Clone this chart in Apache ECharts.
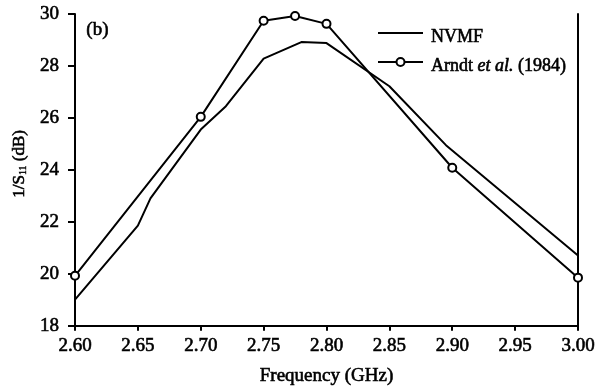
<!DOCTYPE html>
<html>
<head>
<meta charset="utf-8">
<script src="https://cdn.jsdelivr.net/npm/echarts@6/dist/echarts.min.js"></script>
<style>
  html, body { margin: 0; padding: 0; background: #fff; }
  #chart { width: 605px; height: 391px; }
</style>
</head>
<body>
<div id="chart"></div>
<script>
// NVMF simulated curve (frequency GHz, 1/S11 dB)
const nvmfFreq = [2.60, 2.65, 2.66, 2.70, 2.72, 2.75, 2.78, 2.80, 2.85, 2.895, 3.00]
const nvmfVals = [19.0, 21.85, 22.9, 25.55, 26.45, 28.28, 28.92, 28.88, 27.22, 24.95, 20.7]

// Arndt et al. (1984) measured points
const arndtFreq = [2.60, 2.70, 2.75, 2.775, 2.80, 2.90, 3.00]
const arndtVals = [19.92, 26.04, 29.74, 29.92, 29.62, 24.08, 19.85]

const xTicks = [2.60, 2.65, 2.70, 2.75, 2.80, 2.85, 2.90, 2.95, 3.00]
const yTicks = [18, 20, 22, 24, 26, 28, 30]

const font = 'Liberation Serif'
// slight stroke so the serif text reads a little heavier, like the scan
const ink = {color: '#000', textBorderColor: '#000', textBorderWidth: 0.6}

const chart = echarts.init(document.getElementById('chart'))
const option = {
    animation: false,
    grid: {left: 75, right: 27, top: 14, bottom: 63},
    legend: {
        left: 377,
        top: 19,
        orient: 'vertical',
        padding: 0,
        itemWidth: 45,
        itemHeight: 10,
        itemGap: 1,
        textStyle: {
            ...ink,
            fontFamily: font,
            fontSize: 18,
            lineHeight: 20,
            padding: [8, 0, 0, 3],
            rich: {
                it: {...ink, fontFamily: font, fontSize: 18, fontStyle: 'italic', lineHeight: 20}
            }
        },
        formatter: function (name) {
            if (name.indexOf('Arndt') === 0) return 'Arndt {it|et al.} (1984)'
            return name
        },
        data: [
            {name: 'NVMF', itemStyle: {color: 'rgba(0,0,0,0)', borderWidth: 0}},
            {name: 'Arndt et al. (1984)'}
        ]
    },
    xAxis: {
        type: 'value',
        min: xTicks[0],
        max: xTicks[xTicks.length - 1],
        interval: 0.05,
        name: 'Frequency (GHz)',
        nameLocation: 'middle',
        nameGap: 41,
        nameTextStyle: {...ink, fontFamily: font, fontSize: 19},
        axisLine: {lineStyle: {color: '#000', width: 2}},
        axisTick: {inside: false, length: 5, lineStyle: {color: '#000', width: 2}},
        axisLabel: {
            ...ink, fontFamily: font, fontSize: 19, margin: 11,
            formatter: v => v.toFixed(2)
        },
        splitLine: {show: false}
    },
    yAxis: [{
        type: 'value',
        min: yTicks[0],
        max: yTicks[yTicks.length - 1],
        interval: 2,
        name: '1/S{sub|11} (dB)',
        nameLocation: 'middle',
        nameGap: 46,
        nameTextStyle: {
            ...ink, fontFamily: font, fontSize: 17,
            padding: [0, 0, 0, 12],
            rich: {sub: {...ink, textBorderWidth: 0.4, fontFamily: font, fontSize: 10, verticalAlign: 'bottom', padding: [6, 0, 0, 0]}}
        },
        axisLine: {show: true, lineStyle: {color: '#000', width: 2}},
        axisTick: {show: true, length: 7, lineStyle: {color: '#000', width: 2}},
        axisLabel: {...ink, fontFamily: font, fontSize: 19, margin: 16},
        splitLine: {show: false}
    }, {
        type: 'value',
        position: 'right',
        min: yTicks[0],
        max: yTicks[yTicks.length - 1],
        interval: 2,
        axisLine: {show: true, lineStyle: {color: '#000', width: 2}},
        axisTick: {show: false},
        axisLabel: {show: false},
        splitLine: {show: false}
    }],
    graphic: [{
        type: 'text',
        left: 86,
        top: 20,
        style: {text: '(b)', fontFamily: font, fontSize: 19, fill: '#000', stroke: '#000', lineWidth: 0.6}
    }],
    series: [
        {
            name: 'NVMF',
            type: 'line',
            data: nvmfFreq.map((f, i) => [f, nvmfVals[i]]),
            showSymbol: false,
            symbol: 'none',
            lineStyle: {color: '#000', width: 2},
            itemStyle: {color: '#000'}
        },
        {
            name: 'Arndt et al. (1984)',
            type: 'line',
            data: arndtFreq.map((f, i) => [f, arndtVals[i]]),
            symbol: 'circle',
            symbolSize: 8,
            lineStyle: {color: '#000', width: 2},
            itemStyle: {color: '#fff', borderColor: '#000', borderWidth: 2}
        }
    ]
}
chart.setOption(option)
</script>
</body>
</html>
